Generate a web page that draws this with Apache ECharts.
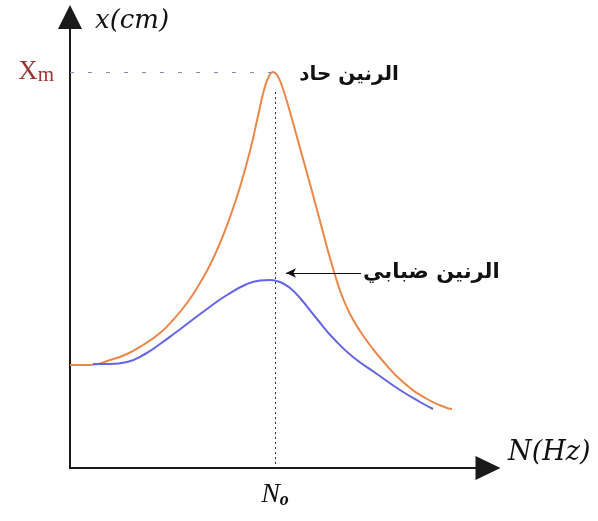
<!DOCTYPE html>
<html>
<head>
<meta charset="utf-8">
<script src="https://cdn.jsdelivr.net/npm/echarts@6/dist/echarts.min.js"></script>
<style>
  html, body { margin: 0; padding: 0; background: #fff; }
  #chart { width: 598px; height: 521px; }
</style>
</head>
<body>
<div id="chart"></div>
<script>
// sharp resonance (orange) and blurred resonance (blue), arbitrary units
var sharpN = [0, 20, 40, 57, 73, 90, 103, 117, 130, 140, 150, 160, 170, 180, 188, 194, 199, 203, 207, 212, 220, 230, 240, 250, 258, 265, 272, 280, 290, 300, 312, 333, 357, 377, 382];
var sharpX = [103, 103, 108, 114, 123, 135, 148, 165, 185, 203, 225, 251, 281, 317, 352, 378, 392, 396, 393, 382, 356, 320, 284, 247, 217, 193, 172, 154, 137, 123, 108, 86, 69, 60, 59];
var blurN = [23, 40, 57, 75, 90, 105, 117, 137, 157, 177, 190, 200, 210, 220, 230, 247, 263, 283, 307, 330, 350, 363];
var blurX = [104, 104, 106, 114, 124, 135, 144, 159, 173, 184, 187.5, 188, 186, 180, 170, 149, 130, 111, 94, 78, 66, 59];

var N0 = 205;      // resonance frequency
var Xm = 396;      // max amplitude
var nMax = 418;
var xMax = 451;

var sharpLabel = 'الرنين حاد';
var blurLabel = 'الرنين ضبابي';
var sharpLabelAt = [279, 393];
var blurArrow = [[291, 195], [216, 195]];

function pairs(a, b) {
  var out = [];
  for (var i = 0; i < a.length; i++) out.push([a[i], b[i]]);
  return out;
}

var chart = echarts.init(document.getElementById('chart'), null, { renderer: 'canvas' });

var axisLineStyle = { color: '#1a1a1a', width: 2 };

var option = {
  animation: false,
  backgroundColor: '#fff',
  grid: { left: 70, right: 110, top: 17, bottom: 53 },
  xAxis: {
    type: 'value',
    min: 0,
    max: nMax,
    name: 'N(Hz)',
    nameLocation: 'end',
    nameGap: 20,
    nameTextStyle: {
      fontFamily: 'DejaVu Serif', fontStyle: 'italic', fontSize: 27, color: '#111',
      align: 'left', verticalAlign: 'bottom', padding: [0, 0, 2, 0]
    },
    axisLine: { show: true, lineStyle: axisLineStyle, symbol: ['none', 'triangle'], symbolSize: [24, 25] },
    axisTick: { show: false },
    splitLine: { show: false },
    axisLabel: {
      customValues: [N0],
      margin: 13,
      formatter: function () { return '{n|N}{o|o}'; },
      rich: {
        n: { fontFamily: 'Liberation Serif', fontStyle: 'italic', fontSize: 28, color: '#111', lineHeight: 28, verticalAlign: 'top' },
        o: { fontFamily: 'Liberation Serif', fontStyle: 'italic', fontWeight: 'bold', fontSize: 18, color: '#111', lineHeight: 18, verticalAlign: 'bottom', padding: [16, 0, 0, 0] }
      }
    }
  },
  yAxis: {
    type: 'value',
    min: 0,
    max: xMax,
    name: 'x(cm)',
    nameLocation: 'end',
    nameGap: -4,
    nameTextStyle: {
      fontFamily: 'DejaVu Serif', fontStyle: 'italic', fontSize: 26, color: '#111',
      align: 'left', verticalAlign: 'middle', padding: [0, 0, 0, 25]
    },
    axisLine: { show: true, lineStyle: axisLineStyle, symbol: ['none', 'triangle'], symbolSize: [24, 24] },
    axisTick: { show: false },
    splitLine: { show: false },
    axisLabel: {
      customValues: [Xm],
      margin: 16,
      formatter: function () { return '{x|X}{m|m}'; },
      rich: {
        x: { fontFamily: 'Liberation Serif', fontSize: 27, color: '#9b3535', lineHeight: 27, verticalAlign: 'top' },
        m: { fontFamily: 'Liberation Serif', fontSize: 21, color: '#9b3535', lineHeight: 21, verticalAlign: 'bottom', padding: [16, 0, 0, 0] }
      }
    }
  },
  series: [
    {
      name: 'sharp',
      type: 'line',
      smooth: 0.5,
      showSymbol: false,
      silent: true,
      data: pairs(sharpN, sharpX),
      lineStyle: { color: '#ec874a', width: 2 },
      markLine: {
        silent: true,
        symbol: 'none',
        label: { show: false },
        data: [
          [
            { coord: [0, Xm], lineStyle: { color: '#8a8cb8', width: 1.2, type: [4, 14] } },
            { coord: [N0 - 3, Xm] }
          ],
          [
            { coord: [N0, Xm - 20], lineStyle: { color: '#333', width: 1, type: [2, 3] } },
            { coord: [N0, 0] }
          ]
        ]
      },
      markPoint: {
        silent: true,
        symbol: 'circle',
        symbolSize: 0,
        data: [{
          coord: sharpLabelAt,
          label: {
            show: true, position: 'inside', formatter: sharpLabel,
            fontFamily: 'DejaVu Sans', fontWeight: 'bold', fontSize: 20, color: '#111'
          }
        }]
      }
    },
    {
      name: 'blur',
      type: 'line',
      smooth: 0.5,
      showSymbol: false,
      silent: true,
      data: pairs(blurN, blurX),
      lineStyle: { color: '#6464e6', width: 2 },
      markLine: {
        silent: true,
        symbol: ['none', 'arrow'],
        symbolSize: [7, 10],
        lineStyle: { color: '#111', width: 1.2, type: 'solid' },
        label: {
          show: true, position: 'start', distance: 2, formatter: blurLabel,
          fontFamily: 'DejaVu Sans', fontWeight: 'bold', fontSize: 21, color: '#111',
          padding: [0, 0, 20, 0]
        },
        data: [[{ coord: blurArrow[0] }, { coord: blurArrow[1] }]]
      }
    }
  ]
};

chart.setOption(option);
</script>
</body>
</html>
